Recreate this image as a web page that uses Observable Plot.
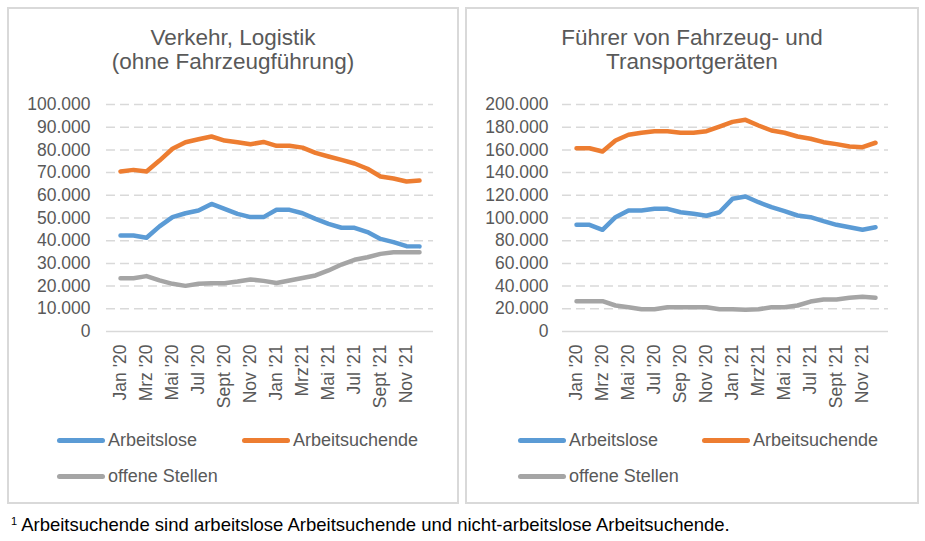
<!DOCTYPE html>
<html><head><meta charset="utf-8">
<script src="https://cdn.jsdelivr.net/npm/d3@7"></script>
<script src="https://cdn.jsdelivr.net/npm/@observablehq/plot@0.6"></script>
<style>
body{margin:0;background:#fff;}
#root{position:relative;width:925px;height:541px;font-family:"Liberation Sans",Arial,sans-serif;color:#595959;overflow:hidden;background:#fff}
.panel{position:absolute;border:2px solid #d9d9d9;box-sizing:border-box}
.title{position:absolute;text-align:center;font-size:22.5px;line-height:24px;color:#595959;white-space:nowrap}
.chart{position:absolute;top:0}
.leg{position:absolute;font-size:18px;color:#595959;display:flex;align-items:center;white-space:nowrap;height:20px}
.sw{display:inline-block;width:48px;height:5px;border-radius:3px;margin-right:3px}
.foot{position:absolute;left:11px;top:515px;font-size:18.5px;line-height:20px;color:#000;white-space:nowrap}
.foot sup{font-size:11px;vertical-align:top;position:relative;top:-4px;margin-right:4px}
</style></head><body><div id="root"></div>
<script>
// ---- data ----
const months = ["Jan '20","Feb '20","Mrz '20","Apr '20","Mai '20","Jun '20","Jul '20","Aug '20","Sep '20","Okt '20","Nov '20","Dez '20",
                "Jan '21","Feb '21","Mrz '21","Apr '21","Mai '21","Jun '21","Jul '21","Aug '21","Sep '21","Okt '21","Nov '21","Dez '21"];
const seriesNames = ["Arbeitslose","Arbeitsuchende","offene Stellen"];
const seriesColors = ["#5B9BD5","#ED7D31","#A5A5A5"];

const leftTitle = ["Verkehr, Logistik","(ohne Fahrzeugführung)"];
const leftTickLabels = ["Jan '20","Mrz '20","Mai '20","Jul '20","Sept '20","Nov '20","Jan '21","Mrz'21","Mai '21","Jul '21","Sept '21","Nov '21"];
const leftYTicks = [0,10000,20000,30000,40000,50000,60000,70000,80000,90000,100000];
const leftArbeitslose = [42300,42300,41300,46300,50400,52100,53300,56200,54000,51800,50400,50400,53600,53600,52100,49600,47400,45700,45700,43800,40800,39400,37600,37500];
const leftArbeitsuchende = [70500,71200,70500,75300,80500,83400,84700,85900,84100,83400,82500,83500,81800,81800,81000,78700,77100,75600,74000,71700,68300,67400,66100,66500];
const leftOffeneStellen = [23500,23500,24400,22500,21000,20100,21000,21300,21300,22000,22900,22300,21400,22500,23600,24700,26900,29500,31600,32700,34200,34900,34900,34900];

const rightTitle = ["Führer von Fahrzeug- und","Transportgeräten"];
const rightTickLabels = ["Jan '20","Mrz '20","Mai '20","Jul '20","Sep '20","Nov '20","Jan '21","Mrz'21","Mai '21","Jul '21","Sept '21","Nov '21"];
const rightYTicks = [0,20000,40000,60000,80000,100000,120000,140000,160000,180000,200000];
const rightArbeitslose = [94000,94000,89600,100700,106600,106600,108100,108100,105100,103700,102000,105100,116900,119000,113900,109500,106000,102200,100700,97200,94000,91900,89600,91900];
const rightArbeitsuchende = [161500,161500,158600,168300,173300,175100,176500,176500,175100,175100,176500,180600,184700,186500,181500,177100,175100,171800,169800,166800,165100,163000,162400,166300];
const rightOffeneStellen = [26700,26700,26700,22900,21400,19600,19600,21400,21400,21400,21400,19600,19600,19100,19600,21400,21400,22900,26400,28200,28200,29700,30600,29700];

const footnote = "Arbeitsuchende sind arbeitslose Arbeitsuchende und nicht-arbeitslose Arbeitsuchende.";

// ---- drawing ----
const fmt = d3.formatLocale({decimal:",", thousands:".", grouping:[3], currency:["","€"]}).format(",");
const root = document.getElementById("root");

function makeChart(valuesBySeries, yTicks, tickLabels, o) {
  const data = [];
  // draw order: offene Stellen, Arbeitslose, Arbeitsuchende
  [2,0,1].forEach(k => valuesBySeries[k].forEach((v,i) => data.push({i, v, name: seriesNames[k]})));
  const svg = Plot.plot({
    width: o.width, height: 420,
    marginLeft: o.ml, marginRight: o.mr, marginTop: 104, marginBottom: 89,
    style: {fontFamily: "Liberation Sans, Arial, sans-serif", fontSize: "17.5px", color: "#595959", background: "transparent"},
    x: {type: "point", domain: d3.range(months.length), padding: 0.5},
    y: {domain: [0, yTicks[yTicks.length-1]]},
    color: {domain: seriesNames, range: seriesColors},
    marks: [
      Plot.ruleY(yTicks.filter(t => t > 0), {stroke: "#d9d9d9", strokeWidth: 1.5, strokeDasharray: "9,5"}),
      Plot.ruleY([0], {stroke: "#d9d9d9", strokeWidth: 1.5}),
      Plot.axisY(yTicks, {tickSize: 0, tickPadding: o.tp, tickFormat: fmt, fill: "#595959", label: null}),
      Plot.axisX(d3.range(0, months.length, 2), {tickSize: 0, tickPadding: 13, tickRotate: -90, tickFormat: i => tickLabels[i/2], fill: "#595959", label: null}),
      Plot.line(data, {x: "i", y: "v", z: "name", stroke: "name", strokeWidth: 4.5, strokeLinejoin: "round", strokeLinecap: "round"})
    ]
  });
  svg.classList.add("chart");
  svg.style.left = o.left + "px";
  return svg;
}

function addPanel(left, width, title, valuesBySeries, yTicks, tickLabels, chartOpts, legX) {
  const p = document.createElement("div");
  p.className = "panel";
  p.style.left = left + "px"; p.style.top = "7px"; p.style.width = width + "px"; p.style.height = "497px";
  root.appendChild(p);
  const t = document.createElement("div");
  t.className = "title";
  t.style.left = left + "px"; t.style.width = width + "px"; t.style.top = "26px";
  t.innerHTML = title.join("<br>");
  root.appendChild(t);
  root.appendChild(makeChart(valuesBySeries, yTicks, tickLabels, chartOpts));
  const pos = [[legX[0], 430], [legX[1], 430], [legX[0], 466]];
  seriesNames.forEach((n, k) => {
    const d = document.createElement("div");
    d.className = "leg";
    d.style.left = pos[k][0] + "px"; d.style.top = pos[k][1] + "px";
    d.innerHTML = `<span class="sw" style="background:${seriesColors[k]}"></span>${n}`;
    root.appendChild(d);
  });
}

addPanel(7, 452, leftTitle, [leftArbeitslose, leftArbeitsuchende, leftOffeneStellen], leftYTicks, leftTickLabels,
  {left: 0, width: 460, ml: 106, mr: 27, tp: 16}, [57, 242]);
addPanel(465, 454, rightTitle, [rightArbeitslose, rightArbeitsuchende, rightOffeneStellen], rightYTicks, rightTickLabels,
  {left: 460, width: 465, ml: 102, mr: 37, tp: 14}, [518, 702]);

const f = document.createElement("div");
f.className = "foot";
f.innerHTML = `<sup>1</sup>${footnote}`;
root.appendChild(f);
</script>
</body></html>
